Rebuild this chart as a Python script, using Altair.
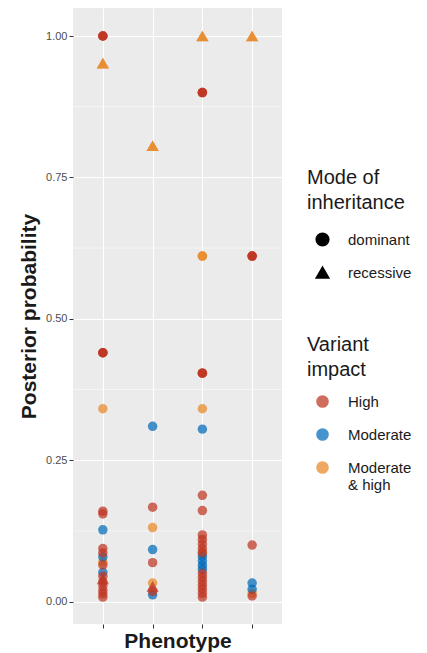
import altair as alt
import pandas as pd

# ---- data ----
rows_p = []
rows_y = []
rows_mode = []
rows_imp = []


def add(p, mode, imp, vals):
    for v in vals:
        rows_p.append(p)
        rows_y.append(v)
        rows_mode.append(mode)
        rows_imp.append(imp)


# Phenotype 1
add("P1", "dominant", "Moderate & high", [0.341, 0.07])
add("P1", "dominant", "Moderate", [0.127, 0.079, 0.052])
add("P1", "dominant", "High", [1.00, 1.00, 1.00, 0.44, 0.44, 0.44, 0.16, 0.155, 0.094, 0.086,
                               0.065, 0.045, 0.035, 0.028, 0.02, 0.014, 0.008])
add("P1", "recessive", "Moderate & high", [0.952, 0.952])
add("P1", "recessive", "High", [0.04])
# Phenotype 2
add("P2", "dominant", "Moderate & high", [0.131, 0.033])
add("P2", "dominant", "Moderate", [0.31, 0.092, 0.012])
add("P2", "dominant", "High", [0.167, 0.069, 0.018])
add("P2", "recessive", "Moderate & high", [0.806, 0.806])
add("P2", "recessive", "High", [0.027])
# Phenotype 3
add("P3", "dominant", "Moderate & high", [0.611, 0.611, 0.341, 0.085])
add("P3", "dominant", "Moderate", [0.305, 0.08, 0.072, 0.064, 0.057])
add("P3", "dominant", "High", [0.90, 0.90, 0.90, 0.404, 0.404, 0.404, 0.188, 0.161, 0.118,
                               0.11, 0.102, 0.094, 0.087, 0.05, 0.043, 0.036, 0.029, 0.022,
                               0.015, 0.008])
add("P3", "recessive", "Moderate & high", [1.00, 1.00])
# Phenotype 4
add("P4", "dominant", "Moderate & high", [0.015])
add("P4", "dominant", "Moderate", [0.033, 0.022])
add("P4", "dominant", "High", [0.611, 0.611, 0.611, 0.10, 0.01])
add("P4", "recessive", "Moderate & high", [1.00, 1.00])

categories = ["P1", "P2", "P3", "P4"]
impacts = ["High", "Moderate", "Moderate & high"]
impact_colors = ["#BE3421", "#006AB8", "#E88624"]
modes = ["dominant", "recessive"]
minor_grid = [0.125, 0.375, 0.625, 0.875]

df = pd.DataFrame({"Phenotype": rows_p, "prob": rows_y,
                   "mode": rows_mode, "impact": rows_imp})
df["order"] = range(len(df))

FONT = "Liberation Sans"

yscale = alt.Scale(domain=[-0.0395, 1.0495], nice=False, zero=False)
xscale = alt.Scale(domain=categories, padding=0.6)

x_enc = alt.X("Phenotype:N", scale=xscale, sort=categories,
              axis=alt.Axis(labels=False, title="Phenotype", grid=True,
                            tickSize=4, tickColor="#333333", domain=False,
                            titleFontSize=21, titleFontWeight="bold",
                            titleColor="#1a1a1a", titlePadding=2, titleFont=FONT))
y_enc = alt.Y("prob:Q", scale=yscale,
              axis=alt.Axis(values=[0, 0.25, 0.5, 0.75, 1.0], format=".2f",
                            title="Posterior probability", grid=True,
                            tickSize=4, tickColor="#333333", domain=False,
                            labelFontSize=11, labelColor="#4D4D4D", labelFont=FONT,
                            labelPadding=2,
                            titleFontSize=21, titleFontWeight="bold",
                            titleColor="#1a1a1a", titlePadding=6, titleFont=FONT))
shape_enc = alt.Shape("mode:N", scale=alt.Scale(domain=modes, range=["circle", "triangle-up"]),
                      legend=alt.Legend(title=["Mode of", "inheritance"], orient="none",
                                        legendX=234, legendY=160, titlePadding=19,
                                        symbolFillColor="#000000", symbolStrokeColor="#000000",
                                        symbolOpacity=1, symbolSize=160, rowPadding=15,
                                        symbolOffset=8, labelOffset=18))
color_enc = alt.Color("impact:N", scale=alt.Scale(domain=impacts, range=impact_colors),
                      legend=alt.Legend(title=["Variant", "impact"], orient="none",
                                        legendX=234, legendY=327,
                                        symbolType="circle", symbolSize=160,
                                        rowPadding=17, symbolOffset=8, labelOffset=18,
                                        labelExpr="datum.label == 'Moderate & high' ? ['Moderate', '& high'] : datum.label"))

minor = alt.Chart(pd.DataFrame({"y": minor_grid})).mark_rule(
    color="white", strokeWidth=0.5
).encode(y=alt.Y("y:Q", scale=yscale))

base = alt.Chart(df).encode(
    x=x_enc, y=y_enc, shape=shape_enc, color=color_enc, order=alt.Order("order:Q")
)
circles = base.mark_point(filled=True, size=90, opacity=0.72).transform_filter(
    alt.datum.mode == "dominant")
triangles = base.mark_point(filled=True, size=150, opacity=0.72).transform_filter(
    alt.datum.mode == "recessive")

chart = alt.layer(minor, circles, triangles).properties(
    width=209, height=616,
    padding={"left": 10, "top": 0, "right": 0, "bottom": 0},
).configure_view(
    fill="#EBEBEB", stroke=None
).configure_axis(
    gridColor="white", gridWidth=1.1
).configure_legend(
    titleFont=FONT, titleFontSize=20, titleFontWeight="normal", titleColor="#1a1a1a",
    titleLineHeight=25, titlePadding=14,
    labelFont=FONT, labelFontSize=15, labelColor="#1a1a1a", labelLimit=200,
)

chart.save("out.html", embed_options={"renderer": "svg", "actions": False})
